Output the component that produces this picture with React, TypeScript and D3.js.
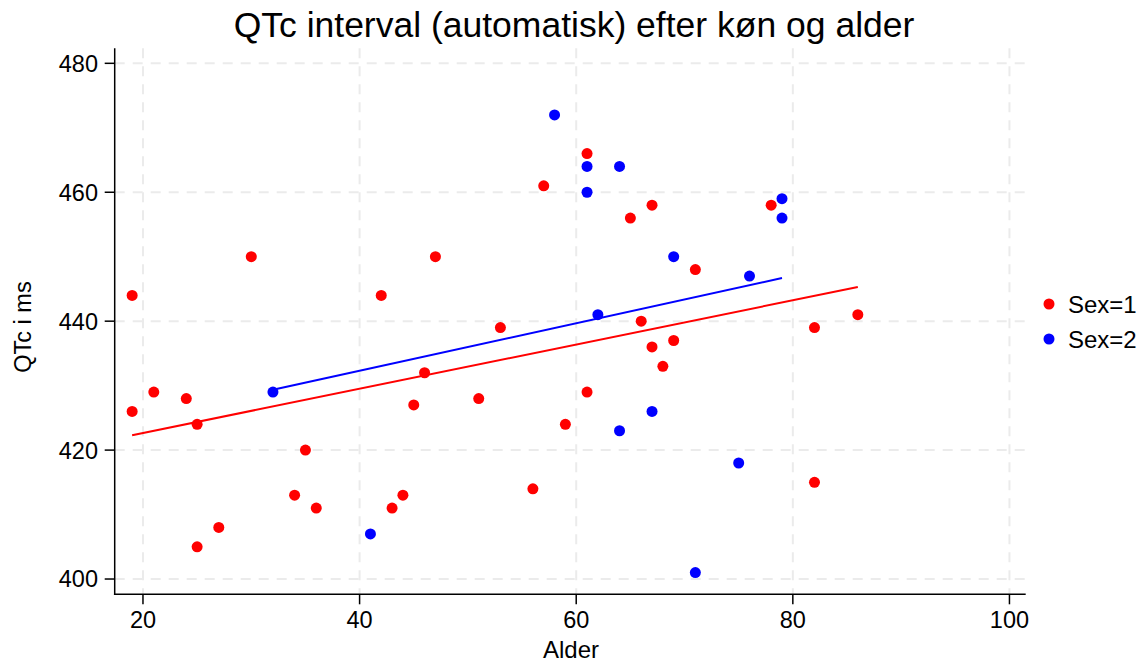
import React from "react";
import * as d3 from "d3";

const sex1Age = [19, 19, 21, 24, 25, 25, 27, 30, 34, 35, 36, 42, 43, 44, 45, 46, 47, 51, 53, 56, 57, 59, 61, 61, 65, 66, 67, 67, 68, 69, 71, 78, 82, 82, 86];
const sex1QTc = [444, 426, 429, 428, 424, 405, 408, 450, 413, 420, 411, 444, 411, 413, 427, 432, 450, 428, 439, 414, 461, 424, 466, 429, 456, 440, 458, 436, 433, 437, 448, 458, 439, 415, 441];
const sex2Age = [32, 41, 58, 61, 61, 62, 64, 64, 67, 69, 71, 75, 76, 79, 79];
const sex2QTc = [429, 407, 472, 464, 460, 441, 464, 423, 426, 450, 401, 418, 447, 459, 456];

const xTicks = [20, 40, 60, 80, 100];
const yTicks = [400, 420, 440, 460, 480];
const seriesNames = ["Sex=1", "Sex=2"];
const seriesColors = ["#ff0000", "#0000ff"];

const FONT = "'Liberation Sans', Arial, sans-serif";

function fit(xs: number[], ys: number[]) {
  const mx = d3.mean(xs)!;
  const my = d3.mean(ys)!;
  let sxy = 0, sxx = 0;
  xs.forEach((x, i) => {
    sxy += (x - mx) * (ys[i] - my);
    sxx += (x - mx) * (x - mx);
  });
  const b = sxy / sxx;
  const a = my - b * mx;
  const [x0, x1] = d3.extent(xs) as [number, number];
  return [
    [x0, a + b * x0],
    [x1, a + b * x1],
  ] as [number, number][];
}

export default function App() {
  const W = 1145, H = 664;
  const left = 114.7, right = 1025.7, top = 48.3, bottom = 594.3;
  const x = d3.scaleLinear().domain([17.39, 101.5]).range([left, right]);
  const y = d3.scaleLinear().domain([397.63, 482.33]).range([bottom, top]);
  const line = d3.line<[number, number]>().x(d => x(d[0])).y(d => y(d[1]));

  const series = [
    { ages: sex1Age, qtc: sex1QTc },
    { ages: sex2Age, qtc: sex2QTc },
  ];

  return (
    <svg width={W} height={H} style={{ position: "absolute", left: 0, top: 0, background: "#fff" }} fontFamily={FONT}>
      <rect x={0} y={0} width={W} height={H} fill="#fff" />
      {/* grid */}
      {yTicks.map(t => (
        <line key={"gy" + t} x1={left} x2={right} y1={y(t)} y2={y(t)} stroke="#ebebeb" strokeWidth={2} strokeDasharray="10,8" />
      ))}
      {xTicks.map(t => (
        <line key={"gx" + t} x1={x(t)} x2={x(t)} y1={top} y2={bottom} stroke="#ebebeb" strokeWidth={2} strokeDasharray="10,8" />
      ))}
      {/* axes */}
      <line x1={left} x2={left} y1={top} y2={bottom + 0.75} stroke="#000" strokeWidth={1.5} />
      <line x1={left - 0.75} x2={right} y1={bottom} y2={bottom} stroke="#000" strokeWidth={1.5} />
      {yTicks.map(t => (
        <g key={"ty" + t}>
          <line x1={left - 10} x2={left} y1={y(t)} y2={y(t)} stroke="#000" strokeWidth={1.5} />
          <text x={98} y={y(t)} dy="0.36em" textAnchor="end" fontSize={23.5}>{t}</text>
        </g>
      ))}
      {xTicks.map(t => (
        <g key={"tx" + t}>
          <line x1={x(t)} x2={x(t)} y1={bottom} y2={bottom + 10} stroke="#000" strokeWidth={1.5} />
          <text x={x(t)} y={627.5} textAnchor="middle" fontSize={23.5}>{t}</text>
        </g>
      ))}
      {/* fit lines */}
      {series.map((s, i) => (
        <path key={"l" + i} d={line(fit(s.ages, s.qtc)) || ""} fill="none" stroke={seriesColors[i]} strokeWidth={2} />
      ))}
      {/* points */}
      {series.map((s, i) =>
        s.ages.map((a, j) => (
          <circle key={"p" + i + "-" + j} cx={x(a)} cy={y(s.qtc[j])} r={5.5} fill={seriesColors[i]} />
        ))
      )}
      {/* titles */}
      <text x={574} y={37} textAnchor="middle" fontSize={35.5}>QTc interval (automatisk) efter køn og alder</text>
      <text x={571} y={658} textAnchor="middle" fontSize={24}>Alder</text>
      <text transform="translate(31,327) rotate(-90)" textAnchor="middle" fontSize={23.5}>QTc i ms</text>
      {/* legend */}
      {seriesNames.map((n, i) => (
        <g key={"lg" + i}>
          <circle cx={1049} cy={304 + i * 35} r={5.5} fill={seriesColors[i]} />
          <text x={1068} y={304 + i * 35} dy="0.36em" fontSize={24}>{n}</text>
        </g>
      ))}
    </svg>
  );
}
